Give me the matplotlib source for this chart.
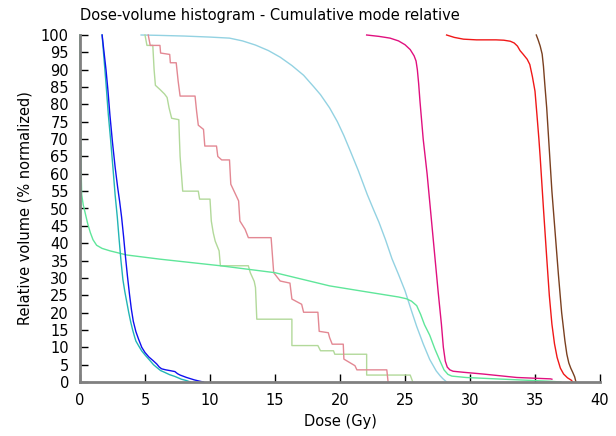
import matplotlib
matplotlib.use("Agg")
import matplotlib.pyplot as plt

# dose (Gy) / relative volume (%), one pair of lists per structure
blue_x = [1.7, 1.85, 2.0, 2.15, 2.3, 2.5, 2.7, 2.9, 3.05, 3.2, 3.35, 3.5, 3.65, 3.8,
          3.95, 4.1, 4.3, 4.5, 4.75, 5.0, 5.3, 5.64, 5.9, 6.1, 6.28, 6.6, 6.9, 7.3,
          7.5, 7.7, 8.2, 8.8, 9.3, 9.5]
blue_y = [100, 95, 90, 84, 77, 69, 62, 56, 52, 47.5, 42, 36, 30.5, 25.5,
          21, 17.5, 14.5, 12.4, 10, 8.5, 7.2, 6.1, 5.2, 4.3, 3.8, 3.5, 3.3, 3.0,
          2.4, 2.0, 1.3, 0.6, 0.15, 0]

teal_x = [1.7, 1.85, 2.0, 2.18, 2.35, 2.55, 2.7, 2.87, 3.0, 3.15, 3.3, 3.45, 3.6, 3.75,
          3.9, 4.05, 4.2, 4.3, 4.5, 4.74, 5.0, 5.4, 5.65, 5.9, 6.2, 6.5, 6.9, 7.3,
          7.8, 8.2, 8.5]
teal_y = [100, 93, 86, 77, 70, 61, 54, 47.5, 41.5, 35, 29.5, 26, 23, 20,
          17.3, 15, 13, 11.8, 10.5, 9.0, 7.8, 6.1, 5, 4.2, 3.3, 2.8, 2.1, 1.6,
          0.8, 0.4, 0]

mint_x = [0, 0.02, 0.05, 0.08, 0.13, 0.25, 0.38, 0.6, 0.8, 1.0, 1.28, 1.7, 2.3, 3.6,
          6.15, 10.8, 15, 19.2, 22, 24.5, 25.1, 25.5, 25.9, 26.2, 26.5, 26.9, 27.3,
          27.7, 28.0, 28.3, 28.6, 29.7, 32, 36.2, 37]
mint_y = [100, 90, 75, 62, 54, 51, 49, 45.5, 43, 41, 39.4, 38.5, 37.8, 36.6,
          35.4, 33.5, 31.5, 27.7, 26, 24.5, 24, 23.3, 22, 19.5, 16.5, 13.5, 9.5,
          6, 3.5, 2.2, 1.7, 1.3, 0.9, 0.2, 0]

sky_x = [4.7, 6, 8, 10, 11.5, 12.5, 13.5, 14.5, 15.4, 16.3, 17.2, 18, 18.5, 19.2,
         19.8, 20.3, 20.8, 21.4, 22.1, 22.6, 23, 23.5, 24, 24.5, 25, 25.5, 25.9,
         26.4, 26.9, 27.4, 27.7, 27.9, 28.2]
sky_y = [100, 99.9, 99.7, 99.4, 99.1, 98.3, 97.1, 95.5, 93.6, 91.2, 88.4, 85, 82.8, 79,
         75, 71, 66.5, 61, 54, 49.5, 46, 41, 35.5, 31, 26.3, 20.5, 16,
         11, 6.5, 3.2, 1.8, 1.0, 0]

sage_x = [5.0, 5.15, 5.6, 5.7, 5.8, 6.15, 6.5, 6.7, 6.85, 7.05, 7.6, 7.65, 7.7, 7.8, 7.9,
          9.1, 9.2, 10.0, 10.1, 10.25, 10.4, 10.7, 10.8, 12.95, 13.1, 13.4, 13.5, 13.6,
          16.3, 16.3, 18.3, 18.5, 19.5, 19.6, 22.05, 22.05, 25.4, 25.6]
sage_y = [100, 97, 97, 90, 85.5, 84.3, 83, 82, 79, 76, 75.6, 70, 65, 60, 55,
          55, 52.7, 52.7, 46.4, 43, 40.6, 37.8, 33.5, 33.5, 31.5, 29, 27.2, 18.1,
          18.1, 10.5, 10.5, 9, 9, 8, 8, 2.0, 2.0, 0]

rose_x = [5.25, 5.4, 6.15, 6.2, 6.9, 6.95, 7.4, 7.55, 7.7, 8.85, 8.97, 9.1, 9.5, 9.6,
          10.5, 10.6, 10.9, 11.5, 11.6, 12.2, 12.3, 12.7, 12.95, 14.7, 14.9, 15.4, 16.15,
          16.3, 17.05, 17.2, 18.3, 18.4, 19.1, 19.2, 19.4, 20.25, 20.3, 21.15, 21.3,
          23.6, 23.7]
rose_y = [100, 97, 97, 94.8, 94.4, 92, 92, 86.7, 82.4, 82.4, 78, 74, 72.8, 68,
          68, 65, 64, 64, 57, 52.2, 46.4, 44, 41.6, 41.6, 31.5, 29.1, 28.5,
          23.9, 22.4, 20.1, 20.1, 14.6, 14.2, 12.8, 10.9, 10.9, 6.6, 4.7, 3.5,
          3.5, 0]

magenta_x = [22.05, 23.0, 23.85, 24.5, 25.0, 25.4, 25.7, 25.85, 25.95, 26.05, 26.15,
             26.4, 26.7, 27.0, 27.3, 27.55, 27.8, 27.95, 28.1, 28.25, 28.45, 28.7,
             29.5, 31, 33.6, 36.2, 36.3]
magenta_y = [100, 99.6, 99.1, 98.3, 97.2, 95.8, 94, 92.5, 90, 86, 81,
             70, 60, 48, 36, 26, 16.7, 10, 6, 4.3, 3.5, 3.1,
             2.8, 2.3, 1.3, 0.9, 0.8]

red_x = [28.2, 28.8, 29.5, 30.5, 32.0, 32.6, 33.1, 33.4, 33.65, 33.85, 34.1, 34.4, 34.6,
         34.8, 35.0, 35.15, 35.3, 35.4, 35.65, 35.9, 36.1, 36.3, 36.5, 36.7, 36.95,
         37.2, 37.5, 37.8, 37.9]
red_y = [100, 99.3, 98.8, 98.6, 98.6, 98.5, 98.2, 97.7, 96.8, 95.5, 94.4, 93, 91.5,
         88, 83.8, 77, 70, 64.7, 50, 35.9, 25, 16.7, 11, 7.1, 4,
         2.3, 1.2, 0.5, 0]

brown_x = [35.1, 35.25, 35.4, 35.55, 35.65, 35.75, 35.9, 36.1, 36.3, 36.55, 36.8, 37.05,
           37.3, 37.45, 37.6, 37.75, 37.9, 38.05, 38.15]
brown_y = [100, 98.5, 96.8, 94.5, 91, 86, 79, 67, 55, 43, 31, 20,
           11.9, 8, 5.5, 4, 2.8, 1.5, 0]

x_ticks = list(range(0, 41, 5))
y_ticks = list(range(0, 101, 5))

curves = [
    (sky_x, sky_y, "#93d2e2"),
    (sage_x, sage_y, "#b2d99a"),
    (rose_x, rose_y, "#e38893"),
    (mint_x, mint_y, "#5fe69a"),
    (teal_x, teal_y, "#22b5b5"),
    (blue_x, blue_y, "#1010f0"),
    (magenta_x, magenta_y, "#e0107f"),
    (red_x, red_y, "#f01818"),
    (brown_x, brown_y, "#7a4020"),
]

plt.rcParams["font.family"] = ["DejaVu Sans"]
fig = plt.figure(figsize=(6.16, 4.36), dpi=100)
ax = fig.add_axes([80 / 616, 54 / 436, 520 / 616, 347 / 436])

for xs, ys, color in curves:
    ax.plot(xs, ys, color=color, lw=1.0, clip_on=False)

ax.set_xlim(0, 40)
ax.set_ylim(0, 100)
ax.set_xticks(x_ticks)
ax.set_yticks(y_ticks)
ax.tick_params(direction="in", length=6, width=1, color="black",
               labelsize=10.5, pad=8)
for side in ("top", "right"):
    ax.spines[side].set_visible(False)
for side in ("left", "bottom"):
    ax.spines[side].set_color("#808080")
    ax.spines[side].set_linewidth(2)

ax.set_xlabel("Dose (Gy)", fontsize=10.5, labelpad=4)
ax.set_ylabel("Relative volume (% normalized)", fontsize=10.5, labelpad=6)
ax.set_title("Dose-volume histogram - Cumulative mode relative", loc="left",
             fontsize=10.5, pad=10.5)

fig.savefig("out.png", dpi=100)
